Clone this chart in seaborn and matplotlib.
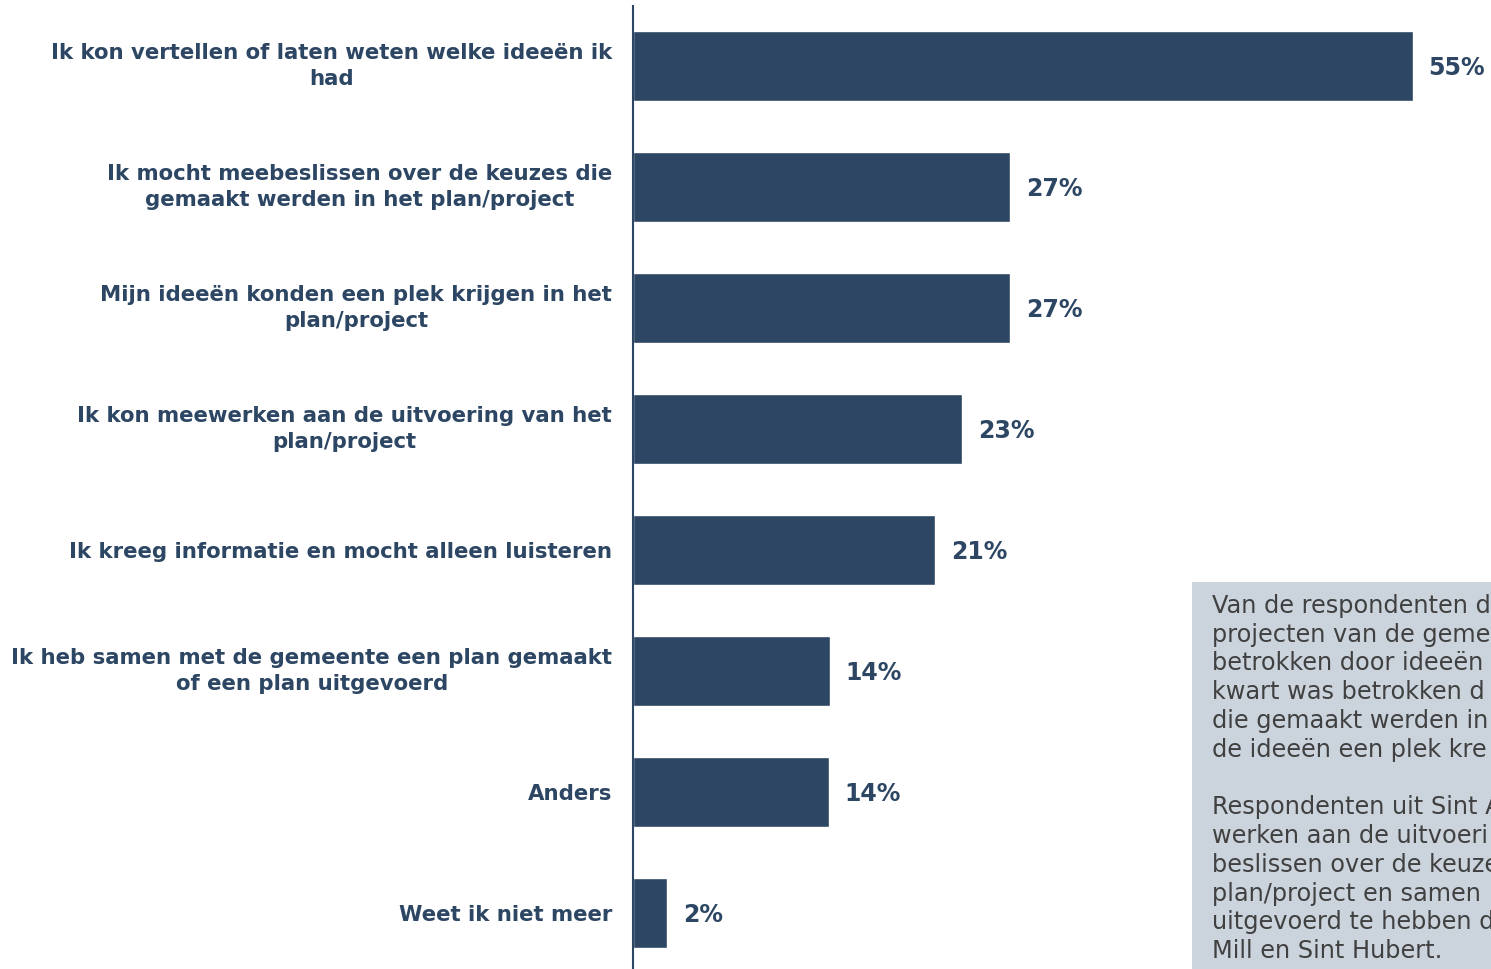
import numpy as np
import pandas as pd
import seaborn as sns
import matplotlib.pyplot as plt
from matplotlib.patches import Rectangle

categories = [
    "Ik kon vertellen of laten weten welke ideeën ik\nhad",
    "Ik mocht meebeslissen over de keuzes die\ngemaakt werden in het plan/project",
    "Mijn ideeën konden een plek krijgen in het\nplan/project",
    "Ik kon meewerken aan de uitvoering van het\nplan/project",
    "Ik kreeg informatie en mocht alleen luisteren",
    "Ik heb samen met de gemeente een plan gemaakt\nof een plan uitgevoerd",
    "Anders",
    "Weet ik niet meer",
]
values = [55.0, 26.6, 26.6, 23.2, 21.3, 13.9, 13.8, 2.4]

note = ("Van de respondenten d\n"
        "projecten van de geme\n"
        "betrokken door ideeën\n"
        "kwart was betrokken d\n"
        "die gemaakt werden in\n"
        "de ideeën een plek kre\n"
        "\n"
        "Respondenten uit Sint A\n"
        "werken aan de uitvoeri\n"
        "beslissen over de keuze\n"
        "plan/project en samen\n"
        "uitgevoerd te hebben d\n"
        "Mill en Sint Hubert.")

navy = "#2C4663"
df = pd.DataFrame({"cat": categories, "val": values})

sns.set_style("white")
plt.rcParams['font.family'] = ['DejaVu Sans']

W, H = 1491, 969
fig = plt.figure(figsize=(W / 100, H / 100), dpi=100)
ax = fig.add_axes([633 / W, 1 - 973.5 / H, 851 / W, 968 / H])

sns.barplot(data=df, x="val", y="cat", orient="h", color=navy, width=0.58,
            saturation=1, ax=ax)
ax.set_xlim(0, 60)
ax.set_xlabel("")
ax.set_ylabel("")
ax.set_xticks([])
for s in ["top", "right", "bottom"]:
    ax.spines[s].set_visible(False)
ax.spines["left"].set_color(navy)
ax.spines["left"].set_linewidth(1.5)
ax.tick_params(axis="y", length=0, pad=15)
for lbl in ax.get_yticklabels():
    lbl.set_fontsize(15.3)
    lbl.set_fontweight("bold")
    lbl.set_color(navy)
    lbl.set_ha("right")
    lbl.set_multialignment("center")
    lbl.set_linespacing(1.35)
    if "\n" in lbl.get_text():
        lbl.set_va("center")

for i, v in enumerate(values):
    ax.text(v + 1.1, i + 0.02, f"{v:.0f}%", va="center", ha="left",
            fontsize=17, fontweight="bold", color=navy, clip_on=False)

fig.patches.append(Rectangle((1192 / W, 0), 1 - 1192 / W, 1 - 582 / H,
                             transform=fig.transFigure, facecolor="#CBD3DC",
                             edgecolor="none", zorder=0))
fig.text(1212 / W, 1 - 594 / H, note, ha="left", va="top", fontsize=17.3,
         color="#404040", linespacing=1.25)

fig.savefig("out.png", dpi=100)
